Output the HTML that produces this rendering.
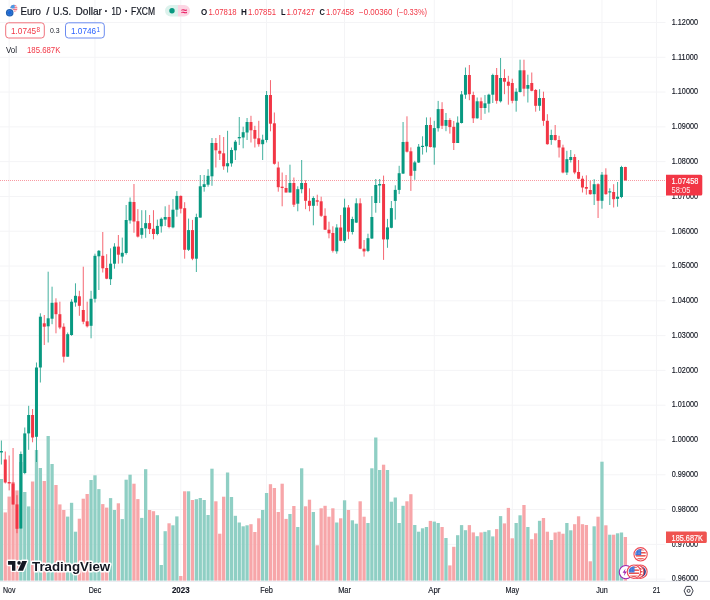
<!DOCTYPE html>
<html lang="en"><head><meta charset="utf-8"><title>EURUSD chart</title>
<style>html,body{margin:0;padding:0;background:#fff;}body{width:710px;height:600px;overflow:hidden;}svg{display:block;}text{font-family:"Liberation Sans", Arial, sans-serif;}</style></head><body>
<svg width="710" height="600" viewBox="0 0 710 600">
<rect width="710" height="600" fill="#fff"/>
<g stroke="#f4f4f6" stroke-width="1" fill="none">
<line x1="0" y1="22.50" x2="665.5" y2="22.50"/>
<line x1="0" y1="57.29" x2="665.5" y2="57.29"/>
<line x1="0" y1="92.08" x2="665.5" y2="92.08"/>
<line x1="0" y1="126.87" x2="665.5" y2="126.87"/>
<line x1="0" y1="161.66" x2="665.5" y2="161.66"/>
<line x1="0" y1="196.45" x2="665.5" y2="196.45"/>
<line x1="0" y1="231.24" x2="665.5" y2="231.24"/>
<line x1="0" y1="266.03" x2="665.5" y2="266.03"/>
<line x1="0" y1="300.82" x2="665.5" y2="300.82"/>
<line x1="0" y1="335.61" x2="665.5" y2="335.61"/>
<line x1="0" y1="370.40" x2="665.5" y2="370.40"/>
<line x1="0" y1="405.19" x2="665.5" y2="405.19"/>
<line x1="0" y1="439.98" x2="665.5" y2="439.98"/>
<line x1="0" y1="474.77" x2="665.5" y2="474.77"/>
<line x1="0" y1="509.56" x2="665.5" y2="509.56"/>
<line x1="0" y1="544.35" x2="665.5" y2="544.35"/>
<line x1="0" y1="579.14" x2="665.5" y2="579.14"/>
<line x1="9.17" y1="0" x2="9.17" y2="581"/>
<line x1="94.97" y1="0" x2="94.97" y2="581"/>
<line x1="180.77" y1="0" x2="180.77" y2="581"/>
<line x1="266.57" y1="0" x2="266.57" y2="581"/>
<line x1="344.57" y1="0" x2="344.57" y2="581"/>
<line x1="434.27" y1="0" x2="434.27" y2="581"/>
<line x1="512.27" y1="0" x2="512.27" y2="581"/>
<line x1="601.97" y1="0" x2="601.97" y2="581"/>
<line x1="656.57" y1="0" x2="656.57" y2="581"/>
</g>
<g>
<rect x="-0.28" y="479.0" width="3.3" height="101.7" fill="#8fcfc4"/>
<rect x="3.62" y="512.4" width="3.3" height="68.3" fill="#f7a6a9"/>
<rect x="7.52" y="496.6" width="3.3" height="84.1" fill="#f7a6a9"/>
<rect x="11.42" y="482.0" width="3.3" height="98.7" fill="#f7a6a9"/>
<rect x="15.32" y="490.4" width="3.3" height="90.3" fill="#f7a6a9"/>
<rect x="19.22" y="462.0" width="3.3" height="118.7" fill="#8fcfc4"/>
<rect x="23.12" y="492.0" width="3.3" height="88.7" fill="#8fcfc4"/>
<rect x="27.02" y="506.4" width="3.3" height="74.3" fill="#8fcfc4"/>
<rect x="30.92" y="481.5" width="3.3" height="99.2" fill="#f7a6a9"/>
<rect x="34.82" y="450.0" width="3.3" height="130.7" fill="#8fcfc4"/>
<rect x="38.72" y="468.0" width="3.3" height="112.7" fill="#8fcfc4"/>
<rect x="42.62" y="481.0" width="3.3" height="99.7" fill="#f7a6a9"/>
<rect x="46.52" y="436.0" width="3.3" height="144.7" fill="#8fcfc4"/>
<rect x="50.42" y="464.0" width="3.3" height="116.7" fill="#8fcfc4"/>
<rect x="54.32" y="485.0" width="3.3" height="95.7" fill="#f7a6a9"/>
<rect x="58.22" y="504.4" width="3.3" height="76.3" fill="#f7a6a9"/>
<rect x="62.12" y="510.0" width="3.3" height="70.7" fill="#f7a6a9"/>
<rect x="66.02" y="516.6" width="3.3" height="64.1" fill="#8fcfc4"/>
<rect x="69.92" y="502.8" width="3.3" height="77.9" fill="#8fcfc4"/>
<rect x="73.82" y="531.7" width="3.3" height="49.0" fill="#8fcfc4"/>
<rect x="77.72" y="518.7" width="3.3" height="62.0" fill="#f7a6a9"/>
<rect x="81.62" y="498.7" width="3.3" height="82.0" fill="#f7a6a9"/>
<rect x="85.52" y="494.0" width="3.3" height="86.7" fill="#f7a6a9"/>
<rect x="89.42" y="480.0" width="3.3" height="100.7" fill="#8fcfc4"/>
<rect x="93.32" y="475.3" width="3.3" height="105.4" fill="#8fcfc4"/>
<rect x="97.22" y="489.1" width="3.3" height="91.6" fill="#8fcfc4"/>
<rect x="101.12" y="504.1" width="3.3" height="76.6" fill="#f7a6a9"/>
<rect x="105.02" y="507.6" width="3.3" height="73.1" fill="#f7a6a9"/>
<rect x="108.92" y="498.1" width="3.3" height="82.6" fill="#8fcfc4"/>
<rect x="112.82" y="510.0" width="3.3" height="70.7" fill="#8fcfc4"/>
<rect x="116.72" y="503.3" width="3.3" height="77.4" fill="#f7a6a9"/>
<rect x="120.62" y="519.1" width="3.3" height="61.6" fill="#8fcfc4"/>
<rect x="124.52" y="479.7" width="3.3" height="101.0" fill="#8fcfc4"/>
<rect x="128.42" y="474.7" width="3.3" height="106.0" fill="#8fcfc4"/>
<rect x="132.32" y="483.7" width="3.3" height="97.0" fill="#f7a6a9"/>
<rect x="136.22" y="499.1" width="3.3" height="81.6" fill="#f7a6a9"/>
<rect x="140.12" y="517.9" width="3.3" height="62.8" fill="#8fcfc4"/>
<rect x="144.02" y="469.2" width="3.3" height="111.5" fill="#8fcfc4"/>
<rect x="147.92" y="510.0" width="3.3" height="70.7" fill="#f7a6a9"/>
<rect x="151.82" y="511.2" width="3.3" height="69.5" fill="#f7a6a9"/>
<rect x="155.72" y="515.2" width="3.3" height="65.5" fill="#8fcfc4"/>
<rect x="159.62" y="565.0" width="3.3" height="15.7" fill="#8fcfc4"/>
<rect x="163.52" y="531.2" width="3.3" height="49.5" fill="#8fcfc4"/>
<rect x="167.42" y="523.3" width="3.3" height="57.4" fill="#f7a6a9"/>
<rect x="171.32" y="525.3" width="3.3" height="55.4" fill="#8fcfc4"/>
<rect x="175.22" y="516.4" width="3.3" height="64.3" fill="#8fcfc4"/>
<rect x="179.12" y="576.0" width="3.3" height="4.7" fill="#f7a6a9"/>
<rect x="183.02" y="491.3" width="3.3" height="89.4" fill="#f7a6a9"/>
<rect x="186.92" y="491.3" width="3.3" height="89.4" fill="#8fcfc4"/>
<rect x="190.82" y="500.0" width="3.3" height="80.7" fill="#f7a6a9"/>
<rect x="194.72" y="499.2" width="3.3" height="81.5" fill="#8fcfc4"/>
<rect x="198.62" y="498.0" width="3.3" height="82.7" fill="#8fcfc4"/>
<rect x="202.52" y="500.0" width="3.3" height="80.7" fill="#8fcfc4"/>
<rect x="206.42" y="515.0" width="3.3" height="65.7" fill="#8fcfc4"/>
<rect x="210.32" y="468.7" width="3.3" height="112.0" fill="#8fcfc4"/>
<rect x="214.22" y="501.3" width="3.3" height="79.4" fill="#f7a6a9"/>
<rect x="218.12" y="533.7" width="3.3" height="47.0" fill="#f7a6a9"/>
<rect x="222.02" y="496.7" width="3.3" height="84.0" fill="#f7a6a9"/>
<rect x="225.92" y="472.5" width="3.3" height="108.2" fill="#8fcfc4"/>
<rect x="229.82" y="497.0" width="3.3" height="83.7" fill="#8fcfc4"/>
<rect x="233.72" y="515.8" width="3.3" height="64.9" fill="#8fcfc4"/>
<rect x="237.62" y="522.5" width="3.3" height="58.2" fill="#8fcfc4"/>
<rect x="241.52" y="526.3" width="3.3" height="54.4" fill="#8fcfc4"/>
<rect x="245.42" y="525.3" width="3.3" height="55.4" fill="#8fcfc4"/>
<rect x="249.32" y="524.2" width="3.3" height="56.5" fill="#f7a6a9"/>
<rect x="253.22" y="532.0" width="3.3" height="48.7" fill="#f7a6a9"/>
<rect x="257.12" y="518.3" width="3.3" height="62.4" fill="#f7a6a9"/>
<rect x="261.02" y="510.0" width="3.3" height="70.7" fill="#8fcfc4"/>
<rect x="264.92" y="493.0" width="3.3" height="87.7" fill="#8fcfc4"/>
<rect x="268.82" y="484.2" width="3.3" height="96.5" fill="#f7a6a9"/>
<rect x="272.72" y="488.0" width="3.3" height="92.7" fill="#f7a6a9"/>
<rect x="276.62" y="512.0" width="3.3" height="68.7" fill="#f7a6a9"/>
<rect x="280.52" y="483.7" width="3.3" height="97.0" fill="#f7a6a9"/>
<rect x="284.42" y="518.9" width="3.3" height="61.8" fill="#f7a6a9"/>
<rect x="288.32" y="514.0" width="3.3" height="66.7" fill="#8fcfc4"/>
<rect x="292.22" y="506.0" width="3.3" height="74.7" fill="#f7a6a9"/>
<rect x="296.12" y="527.0" width="3.3" height="53.7" fill="#8fcfc4"/>
<rect x="300.02" y="468.3" width="3.3" height="112.4" fill="#8fcfc4"/>
<rect x="303.92" y="506.3" width="3.3" height="74.4" fill="#f7a6a9"/>
<rect x="307.82" y="499.7" width="3.3" height="81.0" fill="#f7a6a9"/>
<rect x="311.72" y="512.0" width="3.3" height="68.7" fill="#8fcfc4"/>
<rect x="315.62" y="545.3" width="3.3" height="35.4" fill="#f7a6a9"/>
<rect x="319.52" y="508.3" width="3.3" height="72.4" fill="#f7a6a9"/>
<rect x="323.42" y="505.8" width="3.3" height="74.9" fill="#f7a6a9"/>
<rect x="327.32" y="516.7" width="3.3" height="64.0" fill="#f7a6a9"/>
<rect x="331.22" y="508.3" width="3.3" height="72.4" fill="#f7a6a9"/>
<rect x="335.12" y="522.5" width="3.3" height="58.2" fill="#8fcfc4"/>
<rect x="339.02" y="518.3" width="3.3" height="62.4" fill="#f7a6a9"/>
<rect x="342.92" y="500.3" width="3.3" height="80.4" fill="#8fcfc4"/>
<rect x="346.82" y="510.0" width="3.3" height="70.7" fill="#f7a6a9"/>
<rect x="350.72" y="520.3" width="3.3" height="60.4" fill="#8fcfc4"/>
<rect x="354.62" y="523.7" width="3.3" height="57.0" fill="#8fcfc4"/>
<rect x="358.52" y="501.3" width="3.3" height="79.4" fill="#f7a6a9"/>
<rect x="362.42" y="516.7" width="3.3" height="64.0" fill="#f7a6a9"/>
<rect x="366.32" y="523.0" width="3.3" height="57.7" fill="#8fcfc4"/>
<rect x="370.22" y="468.3" width="3.3" height="112.4" fill="#8fcfc4"/>
<rect x="374.12" y="437.5" width="3.3" height="143.2" fill="#8fcfc4"/>
<rect x="378.02" y="470.0" width="3.3" height="110.7" fill="#8fcfc4"/>
<rect x="381.92" y="464.7" width="3.3" height="116.0" fill="#f7a6a9"/>
<rect x="385.82" y="470.0" width="3.3" height="110.7" fill="#8fcfc4"/>
<rect x="389.72" y="501.7" width="3.3" height="79.0" fill="#8fcfc4"/>
<rect x="393.62" y="497.5" width="3.3" height="83.2" fill="#8fcfc4"/>
<rect x="397.52" y="523.0" width="3.3" height="57.7" fill="#8fcfc4"/>
<rect x="401.42" y="505.8" width="3.3" height="74.9" fill="#8fcfc4"/>
<rect x="405.32" y="501.3" width="3.3" height="79.4" fill="#f7a6a9"/>
<rect x="409.22" y="494.2" width="3.3" height="86.5" fill="#f7a6a9"/>
<rect x="413.12" y="525.0" width="3.3" height="55.7" fill="#8fcfc4"/>
<rect x="417.02" y="531.7" width="3.3" height="49.0" fill="#8fcfc4"/>
<rect x="420.92" y="528.3" width="3.3" height="52.4" fill="#8fcfc4"/>
<rect x="424.82" y="527.0" width="3.3" height="53.7" fill="#8fcfc4"/>
<rect x="428.72" y="520.9" width="3.3" height="59.8" fill="#f7a6a9"/>
<rect x="432.62" y="521.6" width="3.3" height="59.1" fill="#8fcfc4"/>
<rect x="436.52" y="523.0" width="3.3" height="57.7" fill="#8fcfc4"/>
<rect x="440.42" y="527.0" width="3.3" height="53.7" fill="#f7a6a9"/>
<rect x="444.32" y="538.0" width="3.3" height="42.7" fill="#8fcfc4"/>
<rect x="448.22" y="565.4" width="3.3" height="15.3" fill="#f7a6a9"/>
<rect x="452.12" y="546.8" width="3.3" height="33.9" fill="#f7a6a9"/>
<rect x="456.02" y="535.2" width="3.3" height="45.5" fill="#8fcfc4"/>
<rect x="459.92" y="525.1" width="3.3" height="55.6" fill="#8fcfc4"/>
<rect x="463.82" y="530.2" width="3.3" height="50.5" fill="#8fcfc4"/>
<rect x="467.72" y="525.1" width="3.3" height="55.6" fill="#f7a6a9"/>
<rect x="471.62" y="532.4" width="3.3" height="48.3" fill="#f7a6a9"/>
<rect x="475.52" y="536.2" width="3.3" height="44.5" fill="#8fcfc4"/>
<rect x="479.42" y="532.4" width="3.3" height="48.3" fill="#f7a6a9"/>
<rect x="483.32" y="531.8" width="3.3" height="48.9" fill="#8fcfc4"/>
<rect x="487.22" y="530.2" width="3.3" height="50.5" fill="#8fcfc4"/>
<rect x="491.12" y="536.4" width="3.3" height="44.3" fill="#8fcfc4"/>
<rect x="495.02" y="529.1" width="3.3" height="51.6" fill="#f7a6a9"/>
<rect x="498.92" y="516.1" width="3.3" height="64.6" fill="#8fcfc4"/>
<rect x="502.82" y="523.4" width="3.3" height="57.3" fill="#f7a6a9"/>
<rect x="506.72" y="507.9" width="3.3" height="72.8" fill="#f7a6a9"/>
<rect x="510.62" y="538.3" width="3.3" height="42.4" fill="#f7a6a9"/>
<rect x="514.52" y="523.0" width="3.3" height="57.7" fill="#8fcfc4"/>
<rect x="518.42" y="515.3" width="3.3" height="65.4" fill="#8fcfc4"/>
<rect x="522.32" y="505.0" width="3.3" height="75.7" fill="#f7a6a9"/>
<rect x="526.22" y="527.0" width="3.3" height="53.7" fill="#8fcfc4"/>
<rect x="530.12" y="539.2" width="3.3" height="41.5" fill="#f7a6a9"/>
<rect x="534.02" y="533.3" width="3.3" height="47.4" fill="#f7a6a9"/>
<rect x="537.92" y="520.8" width="3.3" height="59.9" fill="#8fcfc4"/>
<rect x="541.82" y="518.0" width="3.3" height="62.7" fill="#f7a6a9"/>
<rect x="545.72" y="531.7" width="3.3" height="49.0" fill="#f7a6a9"/>
<rect x="549.62" y="540.0" width="3.3" height="40.7" fill="#8fcfc4"/>
<rect x="553.52" y="532.5" width="3.3" height="48.2" fill="#f7a6a9"/>
<rect x="557.42" y="531.7" width="3.3" height="49.0" fill="#f7a6a9"/>
<rect x="561.32" y="533.7" width="3.3" height="47.0" fill="#f7a6a9"/>
<rect x="565.22" y="523.0" width="3.3" height="57.7" fill="#8fcfc4"/>
<rect x="569.12" y="530.3" width="3.3" height="50.4" fill="#8fcfc4"/>
<rect x="573.02" y="524.2" width="3.3" height="56.5" fill="#f7a6a9"/>
<rect x="576.92" y="516.3" width="3.3" height="64.4" fill="#f7a6a9"/>
<rect x="580.82" y="524.2" width="3.3" height="56.5" fill="#f7a6a9"/>
<rect x="584.72" y="525.0" width="3.3" height="55.7" fill="#f7a6a9"/>
<rect x="588.62" y="561.3" width="3.3" height="19.4" fill="#f7a6a9"/>
<rect x="592.52" y="526.3" width="3.3" height="54.4" fill="#8fcfc4"/>
<rect x="596.42" y="516.7" width="3.3" height="64.0" fill="#f7a6a9"/>
<rect x="600.32" y="461.7" width="3.3" height="119.0" fill="#8fcfc4"/>
<rect x="604.22" y="525.3" width="3.3" height="55.4" fill="#f7a6a9"/>
<rect x="608.12" y="534.7" width="3.3" height="46.0" fill="#8fcfc4"/>
<rect x="612.02" y="534.7" width="3.3" height="46.0" fill="#f7a6a9"/>
<rect x="615.92" y="533.3" width="3.3" height="47.4" fill="#8fcfc4"/>
<rect x="619.82" y="532.5" width="3.3" height="48.2" fill="#8fcfc4"/>
<rect x="623.72" y="537.0" width="3.3" height="43.7" fill="#f7a6a9"/>
</g>
<line x1="0" y1="180.5" x2="666" y2="180.5" stroke="#f23645" stroke-width="1" stroke-dasharray="1 1" stroke-opacity="0.5"/>
<g>
<line x1="1.37" y1="440.5" x2="1.37" y2="464.5" stroke="#089981" stroke-width="0.9" stroke-opacity="0.85"/>
<rect x="-0.13" y="451.0" width="3.0" height="1.5" fill="#089981"/>
<line x1="5.27" y1="451.5" x2="5.27" y2="483.5" stroke="#f23645" stroke-width="0.9" stroke-opacity="0.85"/>
<rect x="3.77" y="459.5" width="3.0" height="23.0" fill="#f23645"/>
<line x1="9.17" y1="455.5" x2="9.17" y2="490.4" stroke="#f23645" stroke-width="0.9" stroke-opacity="0.85"/>
<rect x="7.67" y="482.0" width="3.0" height="1.5" fill="#f23645"/>
<line x1="13.07" y1="448.0" x2="13.07" y2="504.5" stroke="#f23645" stroke-width="0.9" stroke-opacity="0.85"/>
<rect x="11.57" y="483.5" width="3.0" height="21.0" fill="#f23645"/>
<line x1="16.97" y1="495.2" x2="16.97" y2="533.2" stroke="#f23645" stroke-width="0.9" stroke-opacity="0.85"/>
<rect x="15.47" y="504.4" width="3.0" height="24.4" fill="#f23645"/>
<line x1="20.87" y1="451.5" x2="20.87" y2="528.5" stroke="#089981" stroke-width="0.9" stroke-opacity="0.85"/>
<rect x="19.37" y="454.0" width="3.0" height="74.5" fill="#089981"/>
<line x1="24.77" y1="427.5" x2="24.77" y2="474.2" stroke="#089981" stroke-width="0.9" stroke-opacity="0.85"/>
<rect x="23.27" y="433.4" width="3.0" height="39.6" fill="#089981"/>
<line x1="28.67" y1="405.8" x2="28.67" y2="449.8" stroke="#089981" stroke-width="0.9" stroke-opacity="0.85"/>
<rect x="27.17" y="415.0" width="3.0" height="18.4" fill="#089981"/>
<line x1="32.57" y1="409.0" x2="32.57" y2="442.3" stroke="#f23645" stroke-width="0.9" stroke-opacity="0.85"/>
<rect x="31.07" y="415.0" width="3.0" height="22.5" fill="#f23645"/>
<line x1="36.47" y1="362.5" x2="36.47" y2="462.0" stroke="#089981" stroke-width="0.9" stroke-opacity="0.85"/>
<rect x="34.97" y="367.5" width="3.0" height="69.3" fill="#089981"/>
<line x1="40.37" y1="313.3" x2="40.37" y2="382.5" stroke="#089981" stroke-width="0.9" stroke-opacity="0.85"/>
<rect x="38.87" y="316.7" width="3.0" height="50.8" fill="#089981"/>
<line x1="44.27" y1="315.0" x2="44.27" y2="345.0" stroke="#f23645" stroke-width="0.9" stroke-opacity="0.85"/>
<rect x="42.77" y="323.3" width="3.0" height="3.4" fill="#f23645"/>
<line x1="48.17" y1="271.7" x2="48.17" y2="342.5" stroke="#089981" stroke-width="0.9" stroke-opacity="0.85"/>
<rect x="46.67" y="318.3" width="3.0" height="8.0" fill="#089981"/>
<line x1="52.07" y1="286.7" x2="52.07" y2="324.2" stroke="#089981" stroke-width="0.9" stroke-opacity="0.85"/>
<rect x="50.57" y="302.8" width="3.0" height="15.9" fill="#089981"/>
<line x1="55.97" y1="298.3" x2="55.97" y2="333.3" stroke="#f23645" stroke-width="0.9" stroke-opacity="0.85"/>
<rect x="54.47" y="302.5" width="3.0" height="11.7" fill="#f23645"/>
<line x1="59.87" y1="301.7" x2="59.87" y2="329.2" stroke="#f23645" stroke-width="0.9" stroke-opacity="0.85"/>
<rect x="58.37" y="314.2" width="3.0" height="13.3" fill="#f23645"/>
<line x1="63.77" y1="323.3" x2="63.77" y2="362.5" stroke="#f23645" stroke-width="0.9" stroke-opacity="0.85"/>
<rect x="62.27" y="326.7" width="3.0" height="30.0" fill="#f23645"/>
<line x1="67.67" y1="332.5" x2="67.67" y2="356.7" stroke="#089981" stroke-width="0.9" stroke-opacity="0.85"/>
<rect x="66.17" y="334.2" width="3.0" height="22.5" fill="#089981"/>
<line x1="71.57" y1="299.2" x2="71.57" y2="335.8" stroke="#089981" stroke-width="0.9" stroke-opacity="0.85"/>
<rect x="70.07" y="301.7" width="3.0" height="33.3" fill="#089981"/>
<line x1="75.47" y1="283.3" x2="75.47" y2="306.7" stroke="#089981" stroke-width="0.9" stroke-opacity="0.85"/>
<rect x="73.97" y="295.8" width="3.0" height="6.7" fill="#089981"/>
<line x1="79.37" y1="290.8" x2="79.37" y2="315.8" stroke="#f23645" stroke-width="0.9" stroke-opacity="0.85"/>
<rect x="77.87" y="296.3" width="3.0" height="9.5" fill="#f23645"/>
<line x1="83.27" y1="266.7" x2="83.27" y2="324.2" stroke="#f23645" stroke-width="0.9" stroke-opacity="0.85"/>
<rect x="81.77" y="310.0" width="3.0" height="11.7" fill="#f23645"/>
<line x1="87.17" y1="301.7" x2="87.17" y2="327.5" stroke="#f23645" stroke-width="0.9" stroke-opacity="0.85"/>
<rect x="85.67" y="321.3" width="3.0" height="5.0" fill="#f23645"/>
<line x1="91.07" y1="290.8" x2="91.07" y2="338.3" stroke="#089981" stroke-width="0.9" stroke-opacity="0.85"/>
<rect x="89.57" y="298.8" width="3.0" height="27.0" fill="#089981"/>
<line x1="94.97" y1="253.7" x2="94.97" y2="302.5" stroke="#089981" stroke-width="0.9" stroke-opacity="0.85"/>
<rect x="93.47" y="255.8" width="3.0" height="43.0" fill="#089981"/>
<line x1="98.87" y1="250.0" x2="98.87" y2="290.0" stroke="#089981" stroke-width="0.9" stroke-opacity="0.85"/>
<rect x="97.37" y="250.8" width="3.0" height="5.5" fill="#089981"/>
<line x1="102.77" y1="232.0" x2="102.77" y2="272.5" stroke="#f23645" stroke-width="0.9" stroke-opacity="0.85"/>
<rect x="101.27" y="255.8" width="3.0" height="12.5" fill="#f23645"/>
<line x1="106.67" y1="254.2" x2="106.67" y2="279.2" stroke="#f23645" stroke-width="0.9" stroke-opacity="0.85"/>
<rect x="105.17" y="268.0" width="3.0" height="10.7" fill="#f23645"/>
<line x1="110.57" y1="248.3" x2="110.57" y2="285.0" stroke="#089981" stroke-width="0.9" stroke-opacity="0.85"/>
<rect x="109.07" y="263.7" width="3.0" height="15.5" fill="#089981"/>
<line x1="114.47" y1="243.2" x2="114.47" y2="268.7" stroke="#089981" stroke-width="0.9" stroke-opacity="0.85"/>
<rect x="112.97" y="246.6" width="3.0" height="17.1" fill="#089981"/>
<line x1="118.37" y1="235.0" x2="118.37" y2="263.7" stroke="#f23645" stroke-width="0.9" stroke-opacity="0.85"/>
<rect x="116.87" y="246.6" width="3.0" height="8.1" fill="#f23645"/>
<line x1="122.27" y1="237.6" x2="122.27" y2="263.3" stroke="#089981" stroke-width="0.9" stroke-opacity="0.85"/>
<rect x="120.77" y="252.8" width="3.0" height="3.8" fill="#089981"/>
<line x1="126.17" y1="205.0" x2="126.17" y2="254.6" stroke="#089981" stroke-width="0.9" stroke-opacity="0.85"/>
<rect x="124.67" y="220.0" width="3.0" height="33.0" fill="#089981"/>
<line x1="130.07" y1="197.5" x2="130.07" y2="223.6" stroke="#089981" stroke-width="0.9" stroke-opacity="0.85"/>
<rect x="128.57" y="201.8" width="3.0" height="18.7" fill="#089981"/>
<line x1="133.97" y1="184.0" x2="133.97" y2="232.8" stroke="#f23645" stroke-width="0.9" stroke-opacity="0.85"/>
<rect x="132.47" y="202.0" width="3.0" height="19.5" fill="#f23645"/>
<line x1="137.87" y1="209.1" x2="137.87" y2="237.5" stroke="#f23645" stroke-width="0.9" stroke-opacity="0.85"/>
<rect x="136.37" y="221.2" width="3.0" height="15.4" fill="#f23645"/>
<line x1="141.77" y1="210.2" x2="141.77" y2="238.6" stroke="#089981" stroke-width="0.9" stroke-opacity="0.85"/>
<rect x="140.27" y="228.1" width="3.0" height="6.7" fill="#089981"/>
<line x1="145.67" y1="210.2" x2="145.67" y2="237.8" stroke="#089981" stroke-width="0.9" stroke-opacity="0.85"/>
<rect x="144.17" y="223.1" width="3.0" height="5.3" fill="#089981"/>
<line x1="149.57" y1="215.0" x2="149.57" y2="234.0" stroke="#f23645" stroke-width="0.9" stroke-opacity="0.85"/>
<rect x="148.07" y="223.1" width="3.0" height="6.0" fill="#f23645"/>
<line x1="153.47" y1="210.2" x2="153.47" y2="239.3" stroke="#f23645" stroke-width="0.9" stroke-opacity="0.85"/>
<rect x="151.97" y="228.8" width="3.0" height="5.2" fill="#f23645"/>
<line x1="157.37" y1="219.6" x2="157.37" y2="235.3" stroke="#089981" stroke-width="0.9" stroke-opacity="0.85"/>
<rect x="155.87" y="225.9" width="3.0" height="8.1" fill="#089981"/>
<line x1="161.27" y1="217.5" x2="161.27" y2="232.6" stroke="#089981" stroke-width="0.9" stroke-opacity="0.85"/>
<rect x="159.77" y="218.8" width="3.0" height="7.5" fill="#089981"/>
<line x1="165.17" y1="206.3" x2="165.17" y2="226.0" stroke="#089981" stroke-width="0.9" stroke-opacity="0.85"/>
<rect x="163.67" y="217.0" width="3.0" height="2.6" fill="#089981"/>
<line x1="169.07" y1="204.8" x2="169.07" y2="228.3" stroke="#f23645" stroke-width="0.9" stroke-opacity="0.85"/>
<rect x="167.57" y="217.0" width="3.0" height="10.0" fill="#f23645"/>
<line x1="172.97" y1="199.1" x2="172.97" y2="228.3" stroke="#089981" stroke-width="0.9" stroke-opacity="0.85"/>
<rect x="171.47" y="209.7" width="3.0" height="17.7" fill="#089981"/>
<line x1="176.87" y1="191.1" x2="176.87" y2="216.7" stroke="#089981" stroke-width="0.9" stroke-opacity="0.85"/>
<rect x="175.37" y="195.9" width="3.0" height="13.8" fill="#089981"/>
<line x1="180.77" y1="195.5" x2="180.77" y2="213.4" stroke="#f23645" stroke-width="0.9" stroke-opacity="0.85"/>
<rect x="179.27" y="195.9" width="3.0" height="12.8" fill="#f23645"/>
<line x1="184.67" y1="202.2" x2="184.67" y2="258.7" stroke="#f23645" stroke-width="0.9" stroke-opacity="0.85"/>
<rect x="183.17" y="208.2" width="3.0" height="41.6" fill="#f23645"/>
<line x1="188.57" y1="218.6" x2="188.57" y2="251.0" stroke="#089981" stroke-width="0.9" stroke-opacity="0.85"/>
<rect x="187.07" y="230.1" width="3.0" height="19.7" fill="#089981"/>
<line x1="192.47" y1="219.9" x2="192.47" y2="260.2" stroke="#f23645" stroke-width="0.9" stroke-opacity="0.85"/>
<rect x="190.97" y="230.1" width="3.0" height="28.6" fill="#f23645"/>
<line x1="196.37" y1="213.7" x2="196.37" y2="272.0" stroke="#089981" stroke-width="0.9" stroke-opacity="0.85"/>
<rect x="194.87" y="217.1" width="3.0" height="41.6" fill="#089981"/>
<line x1="200.27" y1="175.0" x2="200.27" y2="217.6" stroke="#089981" stroke-width="0.9" stroke-opacity="0.85"/>
<rect x="198.77" y="186.3" width="3.0" height="31.3" fill="#089981"/>
<line x1="204.17" y1="175.0" x2="204.17" y2="191.7" stroke="#089981" stroke-width="0.9" stroke-opacity="0.85"/>
<rect x="202.67" y="184.2" width="3.0" height="2.8" fill="#089981"/>
<line x1="208.07" y1="169.2" x2="208.07" y2="186.7" stroke="#089981" stroke-width="0.9" stroke-opacity="0.85"/>
<rect x="206.57" y="175.8" width="3.0" height="8.9" fill="#089981"/>
<line x1="211.97" y1="138.0" x2="211.97" y2="185.8" stroke="#089981" stroke-width="0.9" stroke-opacity="0.85"/>
<rect x="210.47" y="143.0" width="3.0" height="33.3" fill="#089981"/>
<line x1="215.87" y1="138.0" x2="215.87" y2="167.5" stroke="#f23645" stroke-width="0.9" stroke-opacity="0.85"/>
<rect x="214.37" y="143.0" width="3.0" height="7.3" fill="#f23645"/>
<line x1="219.77" y1="135.0" x2="219.77" y2="160.0" stroke="#f23645" stroke-width="0.9" stroke-opacity="0.85"/>
<rect x="218.27" y="150.8" width="3.0" height="2.9" fill="#f23645"/>
<line x1="223.67" y1="137.0" x2="223.67" y2="169.8" stroke="#f23645" stroke-width="0.9" stroke-opacity="0.85"/>
<rect x="222.17" y="153.3" width="3.0" height="13.0" fill="#f23645"/>
<line x1="227.57" y1="130.8" x2="227.57" y2="172.5" stroke="#089981" stroke-width="0.9" stroke-opacity="0.85"/>
<rect x="226.07" y="163.2" width="3.0" height="3.1" fill="#089981"/>
<line x1="231.47" y1="147.5" x2="231.47" y2="166.7" stroke="#089981" stroke-width="0.9" stroke-opacity="0.85"/>
<rect x="229.97" y="150.0" width="3.0" height="13.4" fill="#089981"/>
<line x1="235.37" y1="140.0" x2="235.37" y2="160.0" stroke="#089981" stroke-width="0.9" stroke-opacity="0.85"/>
<rect x="233.87" y="141.7" width="3.0" height="8.6" fill="#089981"/>
<line x1="239.27" y1="117.0" x2="239.27" y2="145.0" stroke="#089981" stroke-width="0.9" stroke-opacity="0.85"/>
<rect x="237.77" y="137.0" width="3.0" height="1.3" fill="#089981"/>
<line x1="243.17" y1="126.7" x2="243.17" y2="148.3" stroke="#089981" stroke-width="0.9" stroke-opacity="0.85"/>
<rect x="241.67" y="132.2" width="3.0" height="5.3" fill="#089981"/>
<line x1="247.07" y1="118.0" x2="247.07" y2="140.0" stroke="#089981" stroke-width="0.9" stroke-opacity="0.85"/>
<rect x="245.57" y="122.0" width="3.0" height="10.5" fill="#089981"/>
<line x1="250.97" y1="115.8" x2="250.97" y2="142.5" stroke="#f23645" stroke-width="0.9" stroke-opacity="0.85"/>
<rect x="249.47" y="122.0" width="3.0" height="8.3" fill="#f23645"/>
<line x1="254.87" y1="125.8" x2="254.87" y2="147.5" stroke="#f23645" stroke-width="0.9" stroke-opacity="0.85"/>
<rect x="253.37" y="130.0" width="3.0" height="8.7" fill="#f23645"/>
<line x1="258.77" y1="120.8" x2="258.77" y2="146.7" stroke="#f23645" stroke-width="0.9" stroke-opacity="0.85"/>
<rect x="257.27" y="138.3" width="3.0" height="5.9" fill="#f23645"/>
<line x1="262.67" y1="134.7" x2="262.67" y2="160.0" stroke="#089981" stroke-width="0.9" stroke-opacity="0.85"/>
<rect x="261.17" y="139.7" width="3.0" height="4.5" fill="#089981"/>
<line x1="266.57" y1="91.0" x2="266.57" y2="142.5" stroke="#089981" stroke-width="0.9" stroke-opacity="0.85"/>
<rect x="265.07" y="95.0" width="3.0" height="45.0" fill="#089981"/>
<line x1="270.47" y1="80.1" x2="270.47" y2="131.3" stroke="#f23645" stroke-width="0.9" stroke-opacity="0.85"/>
<rect x="268.97" y="95.0" width="3.0" height="28.7" fill="#f23645"/>
<line x1="274.37" y1="112.5" x2="274.37" y2="164.7" stroke="#f23645" stroke-width="0.9" stroke-opacity="0.85"/>
<rect x="272.87" y="123.3" width="3.0" height="40.5" fill="#f23645"/>
<line x1="278.27" y1="161.7" x2="278.27" y2="191.7" stroke="#f23645" stroke-width="0.9" stroke-opacity="0.85"/>
<rect x="276.77" y="167.5" width="3.0" height="19.7" fill="#f23645"/>
<line x1="282.17" y1="172.5" x2="282.17" y2="206.3" stroke="#f23645" stroke-width="0.9" stroke-opacity="0.85"/>
<rect x="280.67" y="186.7" width="3.0" height="1.3" fill="#f23645"/>
<line x1="286.07" y1="175.0" x2="286.07" y2="192.5" stroke="#f23645" stroke-width="0.9" stroke-opacity="0.85"/>
<rect x="284.57" y="188.0" width="3.0" height="4.5" fill="#f23645"/>
<line x1="289.97" y1="164.7" x2="289.97" y2="192.5" stroke="#089981" stroke-width="0.9" stroke-opacity="0.85"/>
<rect x="288.47" y="183.0" width="3.0" height="9.5" fill="#089981"/>
<line x1="293.87" y1="177.5" x2="293.87" y2="207.0" stroke="#f23645" stroke-width="0.9" stroke-opacity="0.85"/>
<rect x="292.37" y="183.0" width="3.0" height="21.7" fill="#f23645"/>
<line x1="297.77" y1="186.3" x2="297.77" y2="211.3" stroke="#089981" stroke-width="0.9" stroke-opacity="0.85"/>
<rect x="296.27" y="189.2" width="3.0" height="14.5" fill="#089981"/>
<line x1="301.67" y1="160.0" x2="301.67" y2="193.3" stroke="#089981" stroke-width="0.9" stroke-opacity="0.85"/>
<rect x="300.17" y="183.0" width="3.0" height="6.2" fill="#089981"/>
<line x1="305.57" y1="180.3" x2="305.57" y2="209.2" stroke="#f23645" stroke-width="0.9" stroke-opacity="0.85"/>
<rect x="304.07" y="183.0" width="3.0" height="17.8" fill="#f23645"/>
<line x1="309.47" y1="188.3" x2="309.47" y2="211.3" stroke="#f23645" stroke-width="0.9" stroke-opacity="0.85"/>
<rect x="307.97" y="200.8" width="3.0" height="5.0" fill="#f23645"/>
<line x1="313.37" y1="196.3" x2="313.37" y2="225.3" stroke="#089981" stroke-width="0.9" stroke-opacity="0.85"/>
<rect x="311.87" y="198.0" width="3.0" height="7.8" fill="#089981"/>
<line x1="317.27" y1="194.7" x2="317.27" y2="205.8" stroke="#f23645" stroke-width="0.9" stroke-opacity="0.85"/>
<rect x="315.77" y="200.3" width="3.0" height="1.4" fill="#f23645"/>
<line x1="321.17" y1="196.7" x2="321.17" y2="217.0" stroke="#f23645" stroke-width="0.9" stroke-opacity="0.85"/>
<rect x="319.67" y="201.3" width="3.0" height="14.5" fill="#f23645"/>
<line x1="325.07" y1="208.3" x2="325.07" y2="230.0" stroke="#f23645" stroke-width="0.9" stroke-opacity="0.85"/>
<rect x="323.57" y="215.8" width="3.0" height="13.9" fill="#f23645"/>
<line x1="328.97" y1="221.7" x2="328.97" y2="238.3" stroke="#f23645" stroke-width="0.9" stroke-opacity="0.85"/>
<rect x="327.47" y="229.7" width="3.0" height="3.6" fill="#f23645"/>
<line x1="332.87" y1="226.3" x2="332.87" y2="252.5" stroke="#f23645" stroke-width="0.9" stroke-opacity="0.85"/>
<rect x="331.37" y="233.0" width="3.0" height="17.8" fill="#f23645"/>
<line x1="336.77" y1="224.2" x2="336.77" y2="253.7" stroke="#089981" stroke-width="0.9" stroke-opacity="0.85"/>
<rect x="335.27" y="227.5" width="3.0" height="23.8" fill="#089981"/>
<line x1="340.67" y1="215.0" x2="340.67" y2="241.3" stroke="#f23645" stroke-width="0.9" stroke-opacity="0.85"/>
<rect x="339.17" y="227.5" width="3.0" height="13.3" fill="#f23645"/>
<line x1="344.57" y1="198.7" x2="344.57" y2="243.0" stroke="#089981" stroke-width="0.9" stroke-opacity="0.85"/>
<rect x="343.07" y="207.5" width="3.0" height="33.3" fill="#089981"/>
<line x1="348.47" y1="205.0" x2="348.47" y2="239.2" stroke="#f23645" stroke-width="0.9" stroke-opacity="0.85"/>
<rect x="346.97" y="207.5" width="3.0" height="24.2" fill="#f23645"/>
<line x1="352.37" y1="216.7" x2="352.37" y2="234.5" stroke="#089981" stroke-width="0.9" stroke-opacity="0.85"/>
<rect x="350.87" y="219.0" width="3.0" height="13.0" fill="#089981"/>
<line x1="356.27" y1="198.3" x2="356.27" y2="223.0" stroke="#089981" stroke-width="0.9" stroke-opacity="0.85"/>
<rect x="354.77" y="203.3" width="3.0" height="19.3" fill="#089981"/>
<line x1="360.17" y1="198.3" x2="360.17" y2="249.2" stroke="#f23645" stroke-width="0.9" stroke-opacity="0.85"/>
<rect x="358.67" y="203.3" width="3.0" height="45.4" fill="#f23645"/>
<line x1="364.07" y1="240.0" x2="364.07" y2="256.6" stroke="#f23645" stroke-width="0.9" stroke-opacity="0.85"/>
<rect x="362.57" y="248.7" width="3.0" height="2.7" fill="#f23645"/>
<line x1="367.97" y1="233.7" x2="367.97" y2="252.1" stroke="#089981" stroke-width="0.9" stroke-opacity="0.85"/>
<rect x="366.47" y="238.2" width="3.0" height="12.7" fill="#089981"/>
<line x1="371.87" y1="196.0" x2="371.87" y2="239.0" stroke="#089981" stroke-width="0.9" stroke-opacity="0.85"/>
<rect x="370.37" y="217.0" width="3.0" height="21.5" fill="#089981"/>
<line x1="375.77" y1="179.0" x2="375.77" y2="212.7" stroke="#089981" stroke-width="0.9" stroke-opacity="0.85"/>
<rect x="374.27" y="185.0" width="3.0" height="18.0" fill="#089981"/>
<line x1="379.67" y1="179.0" x2="379.67" y2="203.0" stroke="#089981" stroke-width="0.9" stroke-opacity="0.85"/>
<rect x="378.17" y="184.0" width="3.0" height="1.5" fill="#089981"/>
<line x1="383.57" y1="175.6" x2="383.57" y2="259.9" stroke="#f23645" stroke-width="0.9" stroke-opacity="0.85"/>
<rect x="382.07" y="184.0" width="3.0" height="55.4" fill="#f23645"/>
<line x1="387.47" y1="218.9" x2="387.47" y2="247.8" stroke="#089981" stroke-width="0.9" stroke-opacity="0.85"/>
<rect x="385.97" y="227.4" width="3.0" height="12.0" fill="#089981"/>
<line x1="391.37" y1="201.0" x2="391.37" y2="228.3" stroke="#089981" stroke-width="0.9" stroke-opacity="0.85"/>
<rect x="389.87" y="208.1" width="3.0" height="19.7" fill="#089981"/>
<line x1="395.27" y1="185.3" x2="395.27" y2="219.6" stroke="#089981" stroke-width="0.9" stroke-opacity="0.85"/>
<rect x="393.77" y="189.9" width="3.0" height="11.0" fill="#089981"/>
<line x1="399.17" y1="165.8" x2="399.17" y2="194.1" stroke="#089981" stroke-width="0.9" stroke-opacity="0.85"/>
<rect x="397.67" y="173.2" width="3.0" height="16.7" fill="#089981"/>
<line x1="403.07" y1="122.0" x2="403.07" y2="174.0" stroke="#089981" stroke-width="0.9" stroke-opacity="0.85"/>
<rect x="401.57" y="142.0" width="3.0" height="31.6" fill="#089981"/>
<line x1="406.97" y1="116.3" x2="406.97" y2="152.5" stroke="#f23645" stroke-width="0.9" stroke-opacity="0.85"/>
<rect x="405.47" y="141.8" width="3.0" height="9.9" fill="#f23645"/>
<line x1="410.87" y1="147.4" x2="410.87" y2="190.9" stroke="#f23645" stroke-width="0.9" stroke-opacity="0.85"/>
<rect x="409.37" y="151.3" width="3.0" height="24.5" fill="#f23645"/>
<line x1="414.77" y1="160.8" x2="414.77" y2="179.8" stroke="#089981" stroke-width="0.9" stroke-opacity="0.85"/>
<rect x="413.27" y="162.4" width="3.0" height="8.4" fill="#089981"/>
<line x1="418.67" y1="144.0" x2="418.67" y2="163.0" stroke="#089981" stroke-width="0.9" stroke-opacity="0.85"/>
<rect x="417.17" y="146.7" width="3.0" height="15.8" fill="#089981"/>
<line x1="422.57" y1="136.3" x2="422.57" y2="154.6" stroke="#089981" stroke-width="0.9" stroke-opacity="0.85"/>
<rect x="421.07" y="145.8" width="3.0" height="1.2" fill="#089981"/>
<line x1="426.47" y1="117.4" x2="426.47" y2="152.4" stroke="#089981" stroke-width="0.9" stroke-opacity="0.85"/>
<rect x="424.97" y="125.0" width="3.0" height="21.3" fill="#089981"/>
<line x1="430.37" y1="117.4" x2="430.37" y2="147.5" stroke="#f23645" stroke-width="0.9" stroke-opacity="0.85"/>
<rect x="428.87" y="125.0" width="3.0" height="22.0" fill="#f23645"/>
<line x1="434.27" y1="120.8" x2="434.27" y2="164.7" stroke="#089981" stroke-width="0.9" stroke-opacity="0.85"/>
<rect x="432.77" y="128.1" width="3.0" height="19.4" fill="#089981"/>
<line x1="438.17" y1="100.9" x2="438.17" y2="131.6" stroke="#089981" stroke-width="0.9" stroke-opacity="0.85"/>
<rect x="436.67" y="109.1" width="3.0" height="19.1" fill="#089981"/>
<line x1="442.07" y1="102.2" x2="442.07" y2="129.0" stroke="#f23645" stroke-width="0.9" stroke-opacity="0.85"/>
<rect x="440.57" y="109.0" width="3.0" height="16.8" fill="#f23645"/>
<line x1="445.97" y1="113.0" x2="445.97" y2="131.2" stroke="#089981" stroke-width="0.9" stroke-opacity="0.85"/>
<rect x="444.47" y="120.0" width="3.0" height="5.8" fill="#089981"/>
<line x1="449.87" y1="118.2" x2="449.87" y2="133.6" stroke="#f23645" stroke-width="0.9" stroke-opacity="0.85"/>
<rect x="448.37" y="120.0" width="3.0" height="7.1" fill="#f23645"/>
<line x1="453.77" y1="121.0" x2="453.77" y2="150.0" stroke="#f23645" stroke-width="0.9" stroke-opacity="0.85"/>
<rect x="452.27" y="126.8" width="3.0" height="16.2" fill="#f23645"/>
<line x1="457.67" y1="116.4" x2="457.67" y2="143.0" stroke="#089981" stroke-width="0.9" stroke-opacity="0.85"/>
<rect x="456.17" y="122.6" width="3.0" height="20.4" fill="#089981"/>
<line x1="461.57" y1="91.0" x2="461.57" y2="123.5" stroke="#089981" stroke-width="0.9" stroke-opacity="0.85"/>
<rect x="460.07" y="94.4" width="3.0" height="28.6" fill="#089981"/>
<line x1="465.47" y1="67.5" x2="465.47" y2="98.8" stroke="#089981" stroke-width="0.9" stroke-opacity="0.85"/>
<rect x="463.97" y="75.0" width="3.0" height="19.7" fill="#089981"/>
<line x1="469.37" y1="65.0" x2="469.37" y2="100.2" stroke="#f23645" stroke-width="0.9" stroke-opacity="0.85"/>
<rect x="467.87" y="75.0" width="3.0" height="19.2" fill="#f23645"/>
<line x1="473.27" y1="91.7" x2="473.27" y2="123.0" stroke="#f23645" stroke-width="0.9" stroke-opacity="0.85"/>
<rect x="471.77" y="95.0" width="3.0" height="23.3" fill="#f23645"/>
<line x1="477.17" y1="97.5" x2="477.17" y2="118.7" stroke="#089981" stroke-width="0.9" stroke-opacity="0.85"/>
<rect x="475.67" y="101.3" width="3.0" height="17.0" fill="#089981"/>
<line x1="481.07" y1="97.5" x2="481.07" y2="120.0" stroke="#f23645" stroke-width="0.9" stroke-opacity="0.85"/>
<rect x="479.57" y="101.3" width="3.0" height="6.7" fill="#f23645"/>
<line x1="484.97" y1="95.0" x2="484.97" y2="113.8" stroke="#089981" stroke-width="0.9" stroke-opacity="0.85"/>
<rect x="483.47" y="103.3" width="3.0" height="4.7" fill="#089981"/>
<line x1="488.87" y1="93.7" x2="488.87" y2="112.5" stroke="#089981" stroke-width="0.9" stroke-opacity="0.85"/>
<rect x="487.37" y="94.7" width="3.0" height="9.0" fill="#089981"/>
<line x1="492.77" y1="73.7" x2="492.77" y2="103.0" stroke="#089981" stroke-width="0.9" stroke-opacity="0.85"/>
<rect x="491.27" y="75.0" width="3.0" height="19.7" fill="#089981"/>
<line x1="496.67" y1="68.0" x2="496.67" y2="103.7" stroke="#f23645" stroke-width="0.9" stroke-opacity="0.85"/>
<rect x="495.17" y="75.0" width="3.0" height="25.8" fill="#f23645"/>
<line x1="500.57" y1="58.0" x2="500.57" y2="102.5" stroke="#089981" stroke-width="0.9" stroke-opacity="0.85"/>
<rect x="499.07" y="78.0" width="3.0" height="23.3" fill="#089981"/>
<line x1="504.47" y1="69.2" x2="504.47" y2="94.2" stroke="#f23645" stroke-width="0.9" stroke-opacity="0.85"/>
<rect x="502.97" y="78.0" width="3.0" height="3.7" fill="#f23645"/>
<line x1="508.37" y1="75.8" x2="508.37" y2="104.7" stroke="#f23645" stroke-width="0.9" stroke-opacity="0.85"/>
<rect x="506.87" y="81.7" width="3.0" height="4.1" fill="#f23645"/>
<line x1="512.27" y1="78.7" x2="512.27" y2="103.3" stroke="#f23645" stroke-width="0.9" stroke-opacity="0.85"/>
<rect x="510.77" y="83.0" width="3.0" height="17.8" fill="#f23645"/>
<line x1="516.17" y1="88.3" x2="516.17" y2="111.7" stroke="#089981" stroke-width="0.9" stroke-opacity="0.85"/>
<rect x="514.67" y="91.7" width="3.0" height="9.1" fill="#089981"/>
<line x1="520.07" y1="59.7" x2="520.07" y2="92.5" stroke="#089981" stroke-width="0.9" stroke-opacity="0.85"/>
<rect x="518.57" y="70.3" width="3.0" height="21.7" fill="#089981"/>
<line x1="523.97" y1="59.7" x2="523.97" y2="96.3" stroke="#f23645" stroke-width="0.9" stroke-opacity="0.85"/>
<rect x="522.47" y="70.3" width="3.0" height="18.4" fill="#f23645"/>
<line x1="527.87" y1="74.7" x2="527.87" y2="102.5" stroke="#089981" stroke-width="0.9" stroke-opacity="0.85"/>
<rect x="526.37" y="85.0" width="3.0" height="3.7" fill="#089981"/>
<line x1="531.77" y1="72.5" x2="531.77" y2="91.3" stroke="#f23645" stroke-width="0.9" stroke-opacity="0.85"/>
<rect x="530.27" y="83.0" width="3.0" height="7.8" fill="#f23645"/>
<line x1="535.67" y1="89.0" x2="535.67" y2="111.7" stroke="#f23645" stroke-width="0.9" stroke-opacity="0.85"/>
<rect x="534.17" y="90.0" width="3.0" height="15.8" fill="#f23645"/>
<line x1="539.57" y1="89.2" x2="539.57" y2="110.8" stroke="#089981" stroke-width="0.9" stroke-opacity="0.85"/>
<rect x="538.07" y="98.0" width="3.0" height="7.8" fill="#089981"/>
<line x1="543.47" y1="91.7" x2="543.47" y2="125.8" stroke="#f23645" stroke-width="0.9" stroke-opacity="0.85"/>
<rect x="541.97" y="98.0" width="3.0" height="22.8" fill="#f23645"/>
<line x1="547.37" y1="114.2" x2="547.37" y2="144.7" stroke="#f23645" stroke-width="0.9" stroke-opacity="0.85"/>
<rect x="545.87" y="120.8" width="3.0" height="23.4" fill="#f23645"/>
<line x1="551.27" y1="129.7" x2="551.27" y2="144.8" stroke="#089981" stroke-width="0.9" stroke-opacity="0.85"/>
<rect x="549.77" y="135.0" width="3.0" height="5.0" fill="#089981"/>
<line x1="555.17" y1="125.0" x2="555.17" y2="140.8" stroke="#f23645" stroke-width="0.9" stroke-opacity="0.85"/>
<rect x="553.67" y="135.0" width="3.0" height="5.0" fill="#f23645"/>
<line x1="559.07" y1="135.8" x2="559.07" y2="157.5" stroke="#f23645" stroke-width="0.9" stroke-opacity="0.85"/>
<rect x="557.57" y="140.0" width="3.0" height="7.5" fill="#f23645"/>
<line x1="562.97" y1="144.7" x2="562.97" y2="173.3" stroke="#f23645" stroke-width="0.9" stroke-opacity="0.85"/>
<rect x="561.47" y="147.5" width="3.0" height="25.0" fill="#f23645"/>
<line x1="566.87" y1="150.8" x2="566.87" y2="175.0" stroke="#089981" stroke-width="0.9" stroke-opacity="0.85"/>
<rect x="565.37" y="159.2" width="3.0" height="13.3" fill="#089981"/>
<line x1="570.77" y1="150.0" x2="570.77" y2="162.5" stroke="#089981" stroke-width="0.9" stroke-opacity="0.85"/>
<rect x="569.27" y="157.0" width="3.0" height="3.0" fill="#089981"/>
<line x1="574.67" y1="154.2" x2="574.67" y2="174.2" stroke="#f23645" stroke-width="0.9" stroke-opacity="0.85"/>
<rect x="573.17" y="157.0" width="3.0" height="15.5" fill="#f23645"/>
<line x1="578.57" y1="160.0" x2="578.57" y2="179.2" stroke="#f23645" stroke-width="0.9" stroke-opacity="0.85"/>
<rect x="577.07" y="172.0" width="3.0" height="6.7" fill="#f23645"/>
<line x1="582.47" y1="175.8" x2="582.47" y2="192.5" stroke="#f23645" stroke-width="0.9" stroke-opacity="0.85"/>
<rect x="580.97" y="178.7" width="3.0" height="8.8" fill="#f23645"/>
<line x1="586.37" y1="175.3" x2="586.37" y2="194.7" stroke="#f23645" stroke-width="0.9" stroke-opacity="0.85"/>
<rect x="584.87" y="187.0" width="3.0" height="1.7" fill="#f23645"/>
<line x1="590.27" y1="180.8" x2="590.27" y2="194.7" stroke="#f23645" stroke-width="0.9" stroke-opacity="0.85"/>
<rect x="588.77" y="190.0" width="3.0" height="4.2" fill="#f23645"/>
<line x1="594.17" y1="179.2" x2="594.17" y2="205.0" stroke="#089981" stroke-width="0.9" stroke-opacity="0.85"/>
<rect x="592.67" y="184.2" width="3.0" height="10.0" fill="#089981"/>
<line x1="598.07" y1="183.3" x2="598.07" y2="218.0" stroke="#f23645" stroke-width="0.9" stroke-opacity="0.85"/>
<rect x="596.57" y="184.2" width="3.0" height="16.6" fill="#f23645"/>
<line x1="601.97" y1="172.0" x2="601.97" y2="208.7" stroke="#089981" stroke-width="0.9" stroke-opacity="0.85"/>
<rect x="600.47" y="174.7" width="3.0" height="26.1" fill="#089981"/>
<line x1="605.87" y1="168.3" x2="605.87" y2="194.7" stroke="#f23645" stroke-width="0.9" stroke-opacity="0.85"/>
<rect x="604.37" y="174.7" width="3.0" height="19.5" fill="#f23645"/>
<line x1="609.77" y1="188.3" x2="609.77" y2="205.0" stroke="#089981" stroke-width="0.9" stroke-opacity="0.85"/>
<rect x="608.27" y="191.3" width="3.0" height="1.2" fill="#089981"/>
<line x1="613.67" y1="184.2" x2="613.67" y2="207.5" stroke="#f23645" stroke-width="0.9" stroke-opacity="0.85"/>
<rect x="612.17" y="192.0" width="3.0" height="7.2" fill="#f23645"/>
<line x1="617.57" y1="182.0" x2="617.57" y2="206.7" stroke="#089981" stroke-width="0.9" stroke-opacity="0.85"/>
<rect x="616.07" y="196.7" width="3.0" height="2.1" fill="#089981"/>
<line x1="621.47" y1="165.8" x2="621.47" y2="198.2" stroke="#089981" stroke-width="0.9" stroke-opacity="0.85"/>
<rect x="619.97" y="167.0" width="3.0" height="30.0" fill="#089981"/>
<line x1="625.37" y1="166.7" x2="625.37" y2="180.4" stroke="#f23645" stroke-width="0.9" stroke-opacity="0.85"/>
<rect x="623.87" y="167.0" width="3.0" height="13.4" fill="#f23645"/>
</g>
<g fill="#131722" font-size="8.6" stroke="#131722" stroke-width="0.15">
<clipPath id="axclip"><rect x="660" y="0" width="50" height="581"/></clipPath>
<g clip-path="url(#axclip)">
<text x="671.8" y="24.80" textLength="26.2" lengthAdjust="spacingAndGlyphs">1.12000</text>
<text x="671.8" y="59.59" textLength="26.2" lengthAdjust="spacingAndGlyphs">1.11000</text>
<text x="671.8" y="94.38" textLength="26.2" lengthAdjust="spacingAndGlyphs">1.10000</text>
<text x="671.8" y="129.17" textLength="26.2" lengthAdjust="spacingAndGlyphs">1.09000</text>
<text x="671.8" y="163.96" textLength="26.2" lengthAdjust="spacingAndGlyphs">1.08000</text>
<text x="671.8" y="198.75" textLength="26.2" lengthAdjust="spacingAndGlyphs">1.07000</text>
<text x="671.8" y="233.54" textLength="26.2" lengthAdjust="spacingAndGlyphs">1.06000</text>
<text x="671.8" y="268.33" textLength="26.2" lengthAdjust="spacingAndGlyphs">1.05000</text>
<text x="671.8" y="303.12" textLength="26.2" lengthAdjust="spacingAndGlyphs">1.04000</text>
<text x="671.8" y="337.91" textLength="26.2" lengthAdjust="spacingAndGlyphs">1.03000</text>
<text x="671.8" y="372.70" textLength="26.2" lengthAdjust="spacingAndGlyphs">1.02000</text>
<text x="671.8" y="407.49" textLength="26.2" lengthAdjust="spacingAndGlyphs">1.01000</text>
<text x="671.8" y="442.28" textLength="26.2" lengthAdjust="spacingAndGlyphs">1.00000</text>
<text x="671.8" y="477.07" textLength="26.2" lengthAdjust="spacingAndGlyphs">0.99000</text>
<text x="671.8" y="511.86" textLength="26.2" lengthAdjust="spacingAndGlyphs">0.98000</text>
<text x="671.8" y="546.65" textLength="26.2" lengthAdjust="spacingAndGlyphs">0.97000</text>
<text x="671.8" y="581.44" textLength="26.2" lengthAdjust="spacingAndGlyphs">0.96000</text>
</g></g>
<path d="M666 174.7H700.8a1.5 1.5 0 0 1 1.5 1.5V194a1.5 1.5 0 0 1 -1.5 1.5H666Z" fill="#f23645"/>
<text x="671.6" y="183.7" font-size="8.6" fill="#fff" stroke="#fff" stroke-width="0.15" textLength="26.8" lengthAdjust="spacingAndGlyphs">1.07458</text>
<text x="671.6" y="193.3" font-size="8.3" fill="#fff" fill-opacity="0.9" textLength="18.7" lengthAdjust="spacingAndGlyphs">58:05</text>
<path d="M666 531.4H705.3a1.5 1.5 0 0 1 1.5 1.5V541.4a1.5 1.5 0 0 1 -1.5 1.5H666Z" fill="#ef5350"/>
<text x="671.6" y="541" font-size="8.2" fill="#fff" stroke="#fff" stroke-width="0.15" textLength="31.4" lengthAdjust="spacingAndGlyphs">185.687K</text>
<line x1="0" y1="581.3" x2="710" y2="581.3" stroke="#e6e8ee" stroke-width="1"/>
<g fill="#131722" font-size="8.5" text-anchor="middle" stroke="#131722" stroke-width="0.15">
<text x="9.17" y="592.7" textLength="12.4" lengthAdjust="spacingAndGlyphs">Nov</text>
<text x="94.97" y="592.7" textLength="12.6" lengthAdjust="spacingAndGlyphs">Dec</text>
<text x="180.77" y="592.7" textLength="17.7" lengthAdjust="spacingAndGlyphs" font-weight="bold">2023</text>
<text x="266.57" y="592.7" textLength="12.7" lengthAdjust="spacingAndGlyphs">Feb</text>
<text x="344.57" y="592.7" textLength="12.8" lengthAdjust="spacingAndGlyphs">Mar</text>
<text x="434.27" y="592.7" textLength="12.2" lengthAdjust="spacingAndGlyphs">Apr</text>
<text x="512.27" y="592.7" textLength="13.6" lengthAdjust="spacingAndGlyphs">May</text>
<text x="601.97" y="592.7" textLength="11.6" lengthAdjust="spacingAndGlyphs">Jun</text>
<text x="656.57" y="592.7" textLength="7.6" lengthAdjust="spacingAndGlyphs">21</text>
</g>
<g transform="translate(688.6 590.9)" fill="none" stroke="#3c3f4a" stroke-width="1"><path d="M-2.3 -4.5H2.3L4.5 0L2.3 4.5H-2.3L-4.5 0Z" stroke-linejoin="round"/><circle r="1.5"/></g>
<g><clipPath id="usc"><circle cx="13.9" cy="8.2" r="3.5"/></clipPath><g clip-path="url(#usc)"><rect x="10" y="4" width="8" height="8" fill="#fff"/><rect x="10" y="4.7" width="8" height="1" fill="#ef5468"/><rect x="10" y="6.7" width="8" height="1" fill="#ef5468"/><rect x="10" y="8.7" width="8" height="1.1" fill="#ef5468"/><rect x="10" y="10.7" width="8" height="1" fill="#ef5468"/><rect x="10" y="4" width="4.6" height="4.4" fill="#4c9ae6"/></g>
<circle cx="9.7" cy="12.8" r="4.5" fill="#fff"/><circle cx="9.7" cy="12.8" r="3.8" fill="#1d5fb4"/><circle cx="9.7" cy="12.8" r="2.2" fill="#1a66d6"/><circle cx="9.7" cy="12.8" r="2.3" fill="none" stroke="#7fb0ea" stroke-width="0.6" stroke-dasharray="0.6 0.6"/></g>
<g font-size="10.3" fill="#131722" stroke="#131722" stroke-width="0.2">
<text x="20.5" y="14.6" textLength="20.5" lengthAdjust="spacingAndGlyphs">Euro</text>
<text x="46.2" y="14.6" textLength="3.1" lengthAdjust="spacingAndGlyphs">/</text>
<text x="53.0" y="14.6" textLength="18.0" lengthAdjust="spacingAndGlyphs">U.S.</text>
<text x="75.5" y="14.6" textLength="26.5" lengthAdjust="spacingAndGlyphs">Dollar</text>
<text x="111.5" y="14.6" textLength="10.0" lengthAdjust="spacingAndGlyphs">1D</text>
<text x="131.0" y="14.6" textLength="24.0" lengthAdjust="spacingAndGlyphs">FXCM</text>
<text x="106.2" y="14.6" text-anchor="middle" font-weight="bold">·</text><text x="126.5" y="14.6" text-anchor="middle" font-weight="bold">·</text>
</g>
<path d="M170.75 5H178V16.5H170.75a5.75 5.75 0 0 1 0 -11.5Z" fill="#dcf2ec"/><path d="M178 5H184.25a5.75 5.75 0 0 1 0 11.5H178Z" fill="#fcd5e3"/><circle cx="172" cy="10.8" r="2.7" fill="#089981"/>
<text x="184" y="14.6" font-size="11" fill="#e91e63" text-anchor="middle" font-weight="bold">≈</text>
<text x="201.0" y="15" font-size="8.4" font-weight="bold" fill="#131722" textLength="6.2" lengthAdjust="spacingAndGlyphs">O</text>
<text x="208.5" y="15" font-size="8.4" fill="#f23645" textLength="28.0" lengthAdjust="spacingAndGlyphs">1.07818</text>
<text x="241.0" y="15" font-size="8.4" font-weight="bold" fill="#131722" textLength="5.9" lengthAdjust="spacingAndGlyphs">H</text>
<text x="248.0" y="15" font-size="8.4" fill="#f23645" textLength="28.0" lengthAdjust="spacingAndGlyphs">1.07851</text>
<text x="281.0" y="15" font-size="8.4" font-weight="bold" fill="#131722" textLength="4.6" lengthAdjust="spacingAndGlyphs">L</text>
<text x="286.5" y="15" font-size="8.4" fill="#f23645" textLength="28.5" lengthAdjust="spacingAndGlyphs">1.07427</text>
<text x="319.5" y="15" font-size="8.4" font-weight="bold" fill="#131722" textLength="5.4" lengthAdjust="spacingAndGlyphs">C</text>
<text x="326.1" y="15" font-size="8.4" fill="#f23645" textLength="28.0" lengthAdjust="spacingAndGlyphs">1.07458</text>
<text x="359.1" y="15" font-size="8.4" fill="#f23645" textLength="33.3" lengthAdjust="spacingAndGlyphs">−0.00360</text>
<text x="396.6" y="15" font-size="8.4" fill="#f23645" textLength="30.4" lengthAdjust="spacingAndGlyphs">(−0.33%)</text>
<rect x="5.7" y="22.8" width="38.6" height="15.2" rx="3" fill="#fff" stroke="#f0737d" stroke-width="1"/>
<text x="11" y="33.6" font-size="8.3" fill="#f23645" textLength="25.2" lengthAdjust="spacingAndGlyphs">1.0745</text><text x="36.4" y="31.9" font-size="6.4" fill="#f23645">8</text>
<text x="50" y="33.3" font-size="7.6" fill="#131722" textLength="9.6" lengthAdjust="spacingAndGlyphs">0.3</text>
<rect x="65.5" y="22.8" width="38.8" height="15.2" rx="3" fill="#fff" stroke="#6b8cf0" stroke-width="1"/>
<text x="71" y="33.6" font-size="8.3" fill="#2962ff" textLength="25.2" lengthAdjust="spacingAndGlyphs">1.0746</text><text x="96.4" y="31.9" font-size="6.4" fill="#2962ff">1</text>
<text x="6" y="52.6" font-size="8.3" fill="#131722" textLength="11" lengthAdjust="spacingAndGlyphs">Vol</text>
<text x="27" y="52.6" font-size="8.3" fill="#f23645" textLength="33.4" lengthAdjust="spacingAndGlyphs">185.687K</text>
<g stroke="#fff" stroke-width="2.8" stroke-linejoin="round" fill="#fff"><path d="M8.05 561H15.4V570.7H12V564.8H8.05Z"/><circle cx="19.05" cy="562.9" r="1.8"/><path d="M22.2 561H27L23 570.7H17.9Z"/></g>
<g fill="#131722"><path d="M8.05 561H15.4V570.7H12V564.8H8.05Z"/><circle cx="19.05" cy="562.9" r="1.8"/><path d="M22.2 561H27L23 570.7H17.9Z"/></g>
<text x="32.0" y="570.75" font-size="13.7" font-weight="bold" fill="#131722" stroke="#fff" stroke-width="3" stroke-linejoin="round" paint-order="stroke" textLength="78.2" lengthAdjust="spacingAndGlyphs">TradingView</text>
<circle cx="640.5" cy="571.7" r="6.65" fill="#fff" stroke="#ee4b55" stroke-width="1.1"/>
<clipPath id="f3"><circle cx="640.5" cy="571.7" r="5.4"/></clipPath><g clip-path="url(#f3)"><rect x="635" y="566" width="11" height="11.5" fill="#23408f"/><circle cx="640.5" cy="571.7" r="2.6" fill="none" stroke="#e7c34a" stroke-width="0.5" stroke-dasharray="0.5 0.9"/></g>
<circle cx="637.2" cy="571.7" r="6.65" fill="#fff" stroke="#ee4b55" stroke-width="1.1"/>
<clipPath id="f4"><circle cx="637.2" cy="571.7" r="5.4"/></clipPath><g clip-path="url(#f4)"><rect x="631" y="566" width="12" height="11.5" fill="#fff"/><rect x="631" y="568" width="12" height="1.5" fill="#ea524f"/><rect x="631" y="571" width="12" height="1.5" fill="#ea524f"/><rect x="631" y="574" width="12" height="1.5" fill="#ea524f"/></g>
<circle cx="625.9" cy="572.1" r="6.65" fill="#fff" stroke="#9c27b0" stroke-width="1.1"/>
<path d="M625.6 568.6L622.6 572.8H624.6L623.8 576L626.9 571.6H624.8Z" fill="#9c27b0"/>
<circle cx="633.9" cy="571.7" r="6.65" fill="#fff" stroke="#ee4b55" stroke-width="1.1"/>
<clipPath id="f1"><circle cx="633.9" cy="571.7" r="5.4"/></clipPath><g clip-path="url(#f1)">
<rect x="628.5" y="566.3" width="10.8" height="10.8" fill="#fff"/>
<rect x="628.5" y="566.30" width="10.8" height="1.54" fill="#ea524f"/>
<rect x="628.5" y="569.39" width="10.8" height="1.54" fill="#ea524f"/>
<rect x="628.5" y="572.47" width="10.8" height="1.54" fill="#ea524f"/>
<rect x="628.5" y="575.56" width="10.8" height="1.54" fill="#ea524f"/>
<rect x="628.5" y="566.3" width="6.0" height="6.17" fill="#3f76d8"/>
<circle cx="629.9" cy="567.9" r="0.35" fill="#a9c6f5"/>
<circle cx="631.5" cy="567.9" r="0.35" fill="#a9c6f5"/>
<circle cx="633.1" cy="567.9" r="0.35" fill="#a9c6f5"/>
<circle cx="629.9" cy="569.5" r="0.35" fill="#a9c6f5"/>
<circle cx="631.5" cy="569.5" r="0.35" fill="#a9c6f5"/>
<circle cx="633.1" cy="569.5" r="0.35" fill="#a9c6f5"/>
<circle cx="629.9" cy="571.1" r="0.35" fill="#a9c6f5"/>
<circle cx="631.5" cy="571.1" r="0.35" fill="#a9c6f5"/>
<circle cx="633.1" cy="571.1" r="0.35" fill="#a9c6f5"/>
</g>
<circle cx="640.6" cy="554.3" r="6.65" fill="#fff" stroke="#ee4b55" stroke-width="1.1"/>
<clipPath id="f2"><circle cx="640.6" cy="554.3" r="5.4"/></clipPath><g clip-path="url(#f2)">
<rect x="635.2" y="548.9" width="10.8" height="10.8" fill="#fff"/>
<rect x="635.2" y="548.90" width="10.8" height="1.54" fill="#ea524f"/>
<rect x="635.2" y="551.99" width="10.8" height="1.54" fill="#ea524f"/>
<rect x="635.2" y="555.07" width="10.8" height="1.54" fill="#ea524f"/>
<rect x="635.2" y="558.16" width="10.8" height="1.54" fill="#ea524f"/>
<rect x="635.2" y="548.9" width="6.0" height="6.17" fill="#3f76d8"/>
<circle cx="636.6" cy="550.5" r="0.35" fill="#a9c6f5"/>
<circle cx="638.2" cy="550.5" r="0.35" fill="#a9c6f5"/>
<circle cx="639.8" cy="550.5" r="0.35" fill="#a9c6f5"/>
<circle cx="636.6" cy="552.1" r="0.35" fill="#a9c6f5"/>
<circle cx="638.2" cy="552.1" r="0.35" fill="#a9c6f5"/>
<circle cx="639.8" cy="552.1" r="0.35" fill="#a9c6f5"/>
<circle cx="636.6" cy="553.7" r="0.35" fill="#a9c6f5"/>
<circle cx="638.2" cy="553.7" r="0.35" fill="#a9c6f5"/>
<circle cx="639.8" cy="553.7" r="0.35" fill="#a9c6f5"/>
</g>
</svg></body></html>
